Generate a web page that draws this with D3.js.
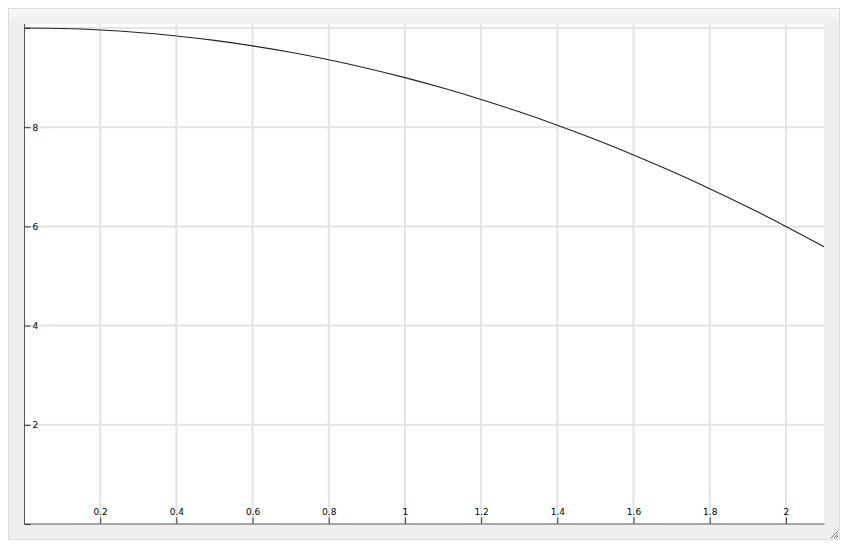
<!DOCTYPE html>
<html>
<head>
<meta charset="utf-8">
<script src="https://cdn.jsdelivr.net/npm/d3@7"></script>
<style>
  body { margin: 0; background: #fff; }
  svg { display: block; }
  .tick text { font-family: "DejaVu Sans", sans-serif; font-size: 9px; fill: #000; }
</style>
</head>
<body>
<svg id="chart" width="847" height="551"></svg>
<script>
// values
var xs = [0, 0.1, 0.2, 0.3, 0.4, 0.5, 0.6, 0.7, 0.8, 0.9, 1.0,
          1.1, 1.2, 1.3, 1.4, 1.5, 1.6, 1.7, 1.8, 1.9, 2.0, 2.1];
var ys = [10, 9.99, 9.96, 9.91, 9.84, 9.75, 9.64, 9.51, 9.36, 9.19, 9.0,
          8.79, 8.56, 8.31, 8.04, 7.75, 7.44, 7.11, 6.76, 6.39, 6.0, 5.59];
var xTicks = [0, 0.2, 0.4, 0.6, 0.8, 1, 1.2, 1.4, 1.6, 1.8, 2];
var yTicks = [0, 2, 4, 6, 8, 10];

var svg = d3.select('#chart');

// window frame
svg.append('rect')
  .attr('x', 8.5).attr('y', 8.5).attr('width', 831).attr('height', 531)
  .style('fill', '#efefef').style('stroke', '#dcdcdc');
svg.append('rect')
  .attr('x', 9).attr('y', 9).attr('width', 830).attr('height', 8)
  .style('fill', '#f6f6f6');

var pLeft = 24, pTop = 24, pRight = 824, pBottom = 524;
svg.append('rect')
  .attr('x', pLeft).attr('y', pTop).attr('width', pRight - pLeft).attr('height', pBottom - pTop)
  .style('fill', '#fff');

var x = d3.scaleLinear().domain([0, 2.1]).range([pLeft, pRight]);
var y = d3.scaleLinear().domain([0, 10]).range([pBottom, 28]);

// grid
svg.append('g').selectAll('line')
  .data(xTicks.slice(1)).enter().append('line')
  .attr('x1', function (d) { return x(d); }).attr('x2', function (d) { return x(d); })
  .attr('y1', pTop).attr('y2', pBottom)
  .style('stroke', '#e3e3e3').style('stroke-width', 2);
svg.append('g').selectAll('line')
  .data(yTicks.slice(1)).enter().append('line')
  .attr('x1', pLeft).attr('x2', pRight)
  .attr('y1', function (d) { return y(d); }).attr('y2', function (d) { return y(d); })
  .style('stroke', '#e3e3e3').style('stroke-width', 2);

// curve
svg.append('path')
  .datum(d3.zip(xs, ys))
  .attr('d', d3.line()
    .x(function (d) { return x(d[0]); })
    .y(function (d) { return y(d[1]); })
    .curve(d3.curveMonotoneX))
  .style('fill', 'none').style('stroke', '#222').style('stroke-width', 1.1);

// axes
var xAxis = svg.append('g')
  .attr('transform', 'translate(0,' + (pBottom - 0.5) + ')')
  .call(d3.axisTop(x).tickValues(xTicks).tickSizeInner(6).tickSizeOuter(0).tickPadding(3)
    .tickFormat(function (d) { return d === 0 ? '' : d3.format('~g')(d); }));
xAxis.select('.domain').style('stroke', '#555');
xAxis.selectAll('.tick line').style('stroke', '#333');

var yAxis = svg.append('g')
  .attr('transform', 'translate(' + (pLeft + 0.5) + ',0)')
  .call(d3.axisRight(y).tickValues(yTicks).tickSizeInner(6).tickSizeOuter(0).tickPadding(2)
    .tickFormat(function (d) { return (d === 0 || d === 10) ? '' : d; }));
yAxis.select('.domain').attr('d', 'M0,' + pTop + 'V' + pBottom).style('stroke', '#555');
yAxis.selectAll('.tick line').style('stroke', '#333');

// resize grip
var grip = svg.append('g').style('stroke', '#777').style('stroke-width', 1);
[[838, 531, 831, 538], [838, 534, 834, 538], [838, 536, 836, 538]].forEach(function (s) {
  grip.append('line').attr('x1', s[0]).attr('y1', s[1]).attr('x2', s[2]).attr('y2', s[3]);
});
</script>
</body>
</html>
